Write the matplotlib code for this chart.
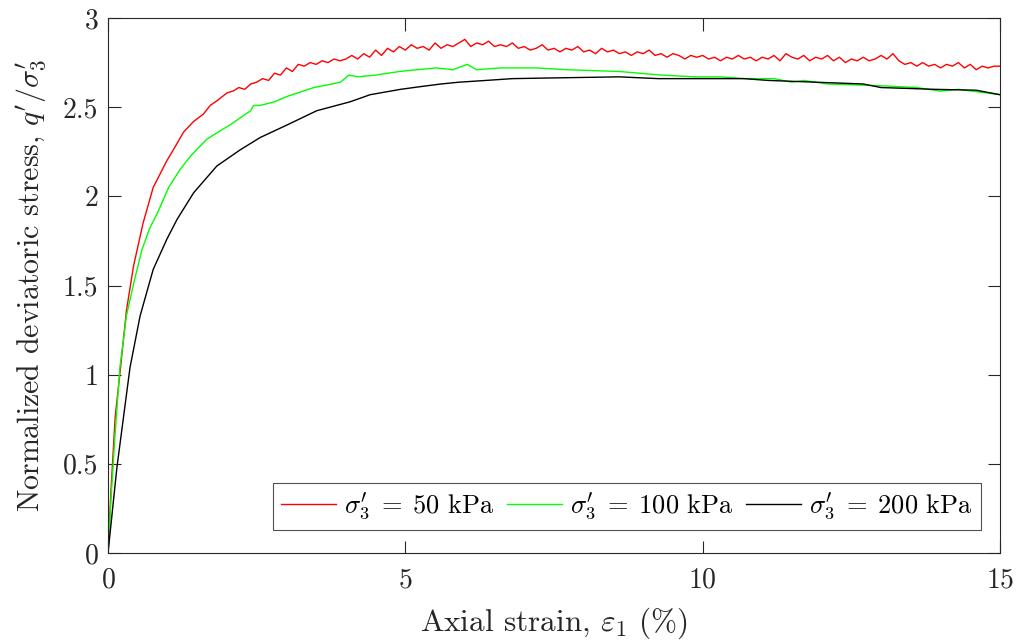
import numpy as np
import matplotlib
matplotlib.use("Agg")
import matplotlib.pyplot as plt

plt.rcParams["font.family"] = "serif"
plt.rcParams["font.serif"] = ["cmr10", "DejaVu Serif"]
plt.rcParams["mathtext.fontset"] = "cm"
plt.rcParams["axes.formatter.use_mathtext"] = True

# sigma'_3 = 50 kPa : debut de courbe lu point par point, puis grille de 0.1 %
red_x_start = [0, 0.05, 0.12, 0.23, 0.31, 0.43, 0.59, 0.76, 0.99, 1.15, 1.27,
               1.44, 1.6, 1.72, 1.85, 2.0]
red_y_start = [0, 0.35, 0.76, 1.10, 1.36, 1.61, 1.85, 2.05, 2.20, 2.29, 2.36,
               2.42, 2.46, 2.51, 2.54, 2.58]
red_y_tail = [
    2.59, 2.61, 2.60, 2.63, 2.64, 2.66, 2.65, 2.69, 2.68,
    2.72, 2.70, 2.74, 2.73, 2.75, 2.74, 2.76, 2.75, 2.77, 2.76,
    2.77, 2.79, 2.77, 2.80, 2.78, 2.82, 2.79, 2.83, 2.81, 2.84,
    2.82, 2.85, 2.83, 2.84, 2.82, 2.86, 2.83, 2.85, 2.84, 2.86,
    2.88, 2.84, 2.86, 2.85, 2.87, 2.84, 2.85, 2.84, 2.86, 2.83,
    2.84, 2.82, 2.83, 2.85, 2.82, 2.83, 2.81, 2.83, 2.82, 2.84,
    2.81, 2.82, 2.80, 2.83, 2.81, 2.82, 2.80, 2.81, 2.79, 2.81,
    2.80, 2.82, 2.79, 2.80, 2.78, 2.80, 2.79, 2.77, 2.79, 2.78,
    2.79, 2.77, 2.78, 2.76, 2.78, 2.77, 2.79, 2.77, 2.78, 2.76,
    2.78, 2.77, 2.79, 2.76, 2.80, 2.78, 2.77, 2.79, 2.76, 2.78,
    2.77, 2.79, 2.76, 2.78, 2.75, 2.77, 2.76, 2.78, 2.76, 2.77,
    2.79, 2.77, 2.80, 2.76, 2.74, 2.75, 2.73, 2.75, 2.73, 2.74,
    2.72, 2.74, 2.73, 2.75, 2.72, 2.74, 2.71, 2.73, 2.72, 2.73, 2.73,
]
red_x_tail = np.round(np.arange(2.1, 15.001, 0.1), 1)

# sigma'_3 = 100 kPa
green_x = [0, 0.05, 0.12, 0.20, 0.31, 0.43, 0.57, 0.70, 0.85, 1.02, 1.21, 1.40,
           1.66, 1.85, 2.05, 2.31, 2.40, 2.45, 2.56, 2.8, 3.01, 3.46, 3.91, 4.05,
           4.2, 4.5, 4.9, 5.2, 5.52, 5.8, 6.04, 6.2, 6.6, 7.2, 7.72, 8.6, 9.3,
           9.87, 10.3, 10.7, 11.2, 11.5, 11.7, 12.1, 13.0, 13.6, 14.0, 14.3, 15.0]
green_y = [0, 0.30, 0.67, 1.04, 1.33, 1.51, 1.70, 1.82, 1.92, 2.05, 2.15, 2.23,
           2.32, 2.36, 2.40, 2.46, 2.48, 2.51, 2.51, 2.53, 2.56, 2.61, 2.64, 2.68,
           2.67, 2.68, 2.70, 2.71, 2.72, 2.71, 2.74, 2.71, 2.72, 2.72, 2.71, 2.70,
           2.68, 2.67, 2.67, 2.66, 2.66, 2.64, 2.65, 2.63, 2.62, 2.61, 2.59, 2.60,
           2.57]

# sigma'_3 = 200 kPa
black_x = [0, 0.05, 0.15, 0.26, 0.37, 0.54, 0.76, 0.99, 1.16, 1.44, 1.83, 2.22,
           2.56, 3.01, 3.51, 4.07, 4.41, 4.92, 5.25, 5.6, 5.9, 6.36, 6.8, 7.67,
           8.6, 9.25, 10.0, 10.7, 11.1, 12.7, 13.0, 13.9, 14.6, 15.0]
black_y = [0, 0.16, 0.48, 0.76, 1.04, 1.33, 1.59, 1.76, 1.87, 2.02, 2.17, 2.26,
           2.33, 2.40, 2.48, 2.53, 2.57, 2.60, 2.615, 2.63, 2.64, 2.65, 2.66,
           2.665, 2.67, 2.66, 2.66, 2.66, 2.65, 2.63, 2.61, 2.60, 2.595, 2.57]

x_ticks = [0, 5, 10, 15]
y_ticks = [0, 0.5, 1, 1.5, 2, 2.5, 3]
y_tick_labels = ["0", "0.5", "1", "1.5", "2", "2.5", "3"]

fig = plt.figure(figsize=(10.21, 6.43), dpi=100)
ax = fig.add_axes([108 / 1021, 1 - 553 / 643, 892 / 1021, 535 / 643])

red_x = list(red_x_start) + list(red_x_tail)
red_y = list(red_y_start) + list(red_y_tail)
ax.plot(red_x, red_y, color="#ff0000", lw=1.0,
        label=r"$\sigma_3'\;=\;50$ kPa")
ax.plot(green_x, green_y, color="#00ff00", lw=1.0,
        label=r"$\sigma_3'\;=\;100$ kPa")
ax.plot(black_x, black_y, color="black", lw=1.0,
        label=r"$\sigma_3'\;=\;200$ kPa")

ax.set_xlim(0, 15)
ax.set_ylim(0, 3)
ax.set_xticks(x_ticks)
ax.set_yticks(y_ticks)
ax.set_yticklabels(y_tick_labels)
ax.tick_params(direction="in", length=9, width=0.8, top=True, right=True,
               labelsize=20, colors="#262626")
ax.tick_params(axis="x", pad=10)
ax.tick_params(axis="y", pad=7)
for s in ax.spines.values():
    s.set_color("#262626")
    s.set_linewidth(0.8)

ax.set_xlabel(r"Axial strain, $\varepsilon_1$ (%)", fontsize=22.5,
              color="#262626", labelpad=9)
ax.set_ylabel(r"Normalized deviatoric stress, $q'/\sigma_3'$", fontsize=21.5,
              color="#262626", labelpad=10)

leg = ax.legend(loc="lower right", ncol=3, fontsize=19, frameon=True,
                fancybox=False, edgecolor="#262626", handlelength=2.1,
                handletextpad=0.3, columnspacing=0.45, borderpad=0.3,
                borderaxespad=0, bbox_to_anchor=(0.9787, 0.043))
leg.get_frame().set_linewidth(0.8)

fig.savefig("out.png", dpi=100)
